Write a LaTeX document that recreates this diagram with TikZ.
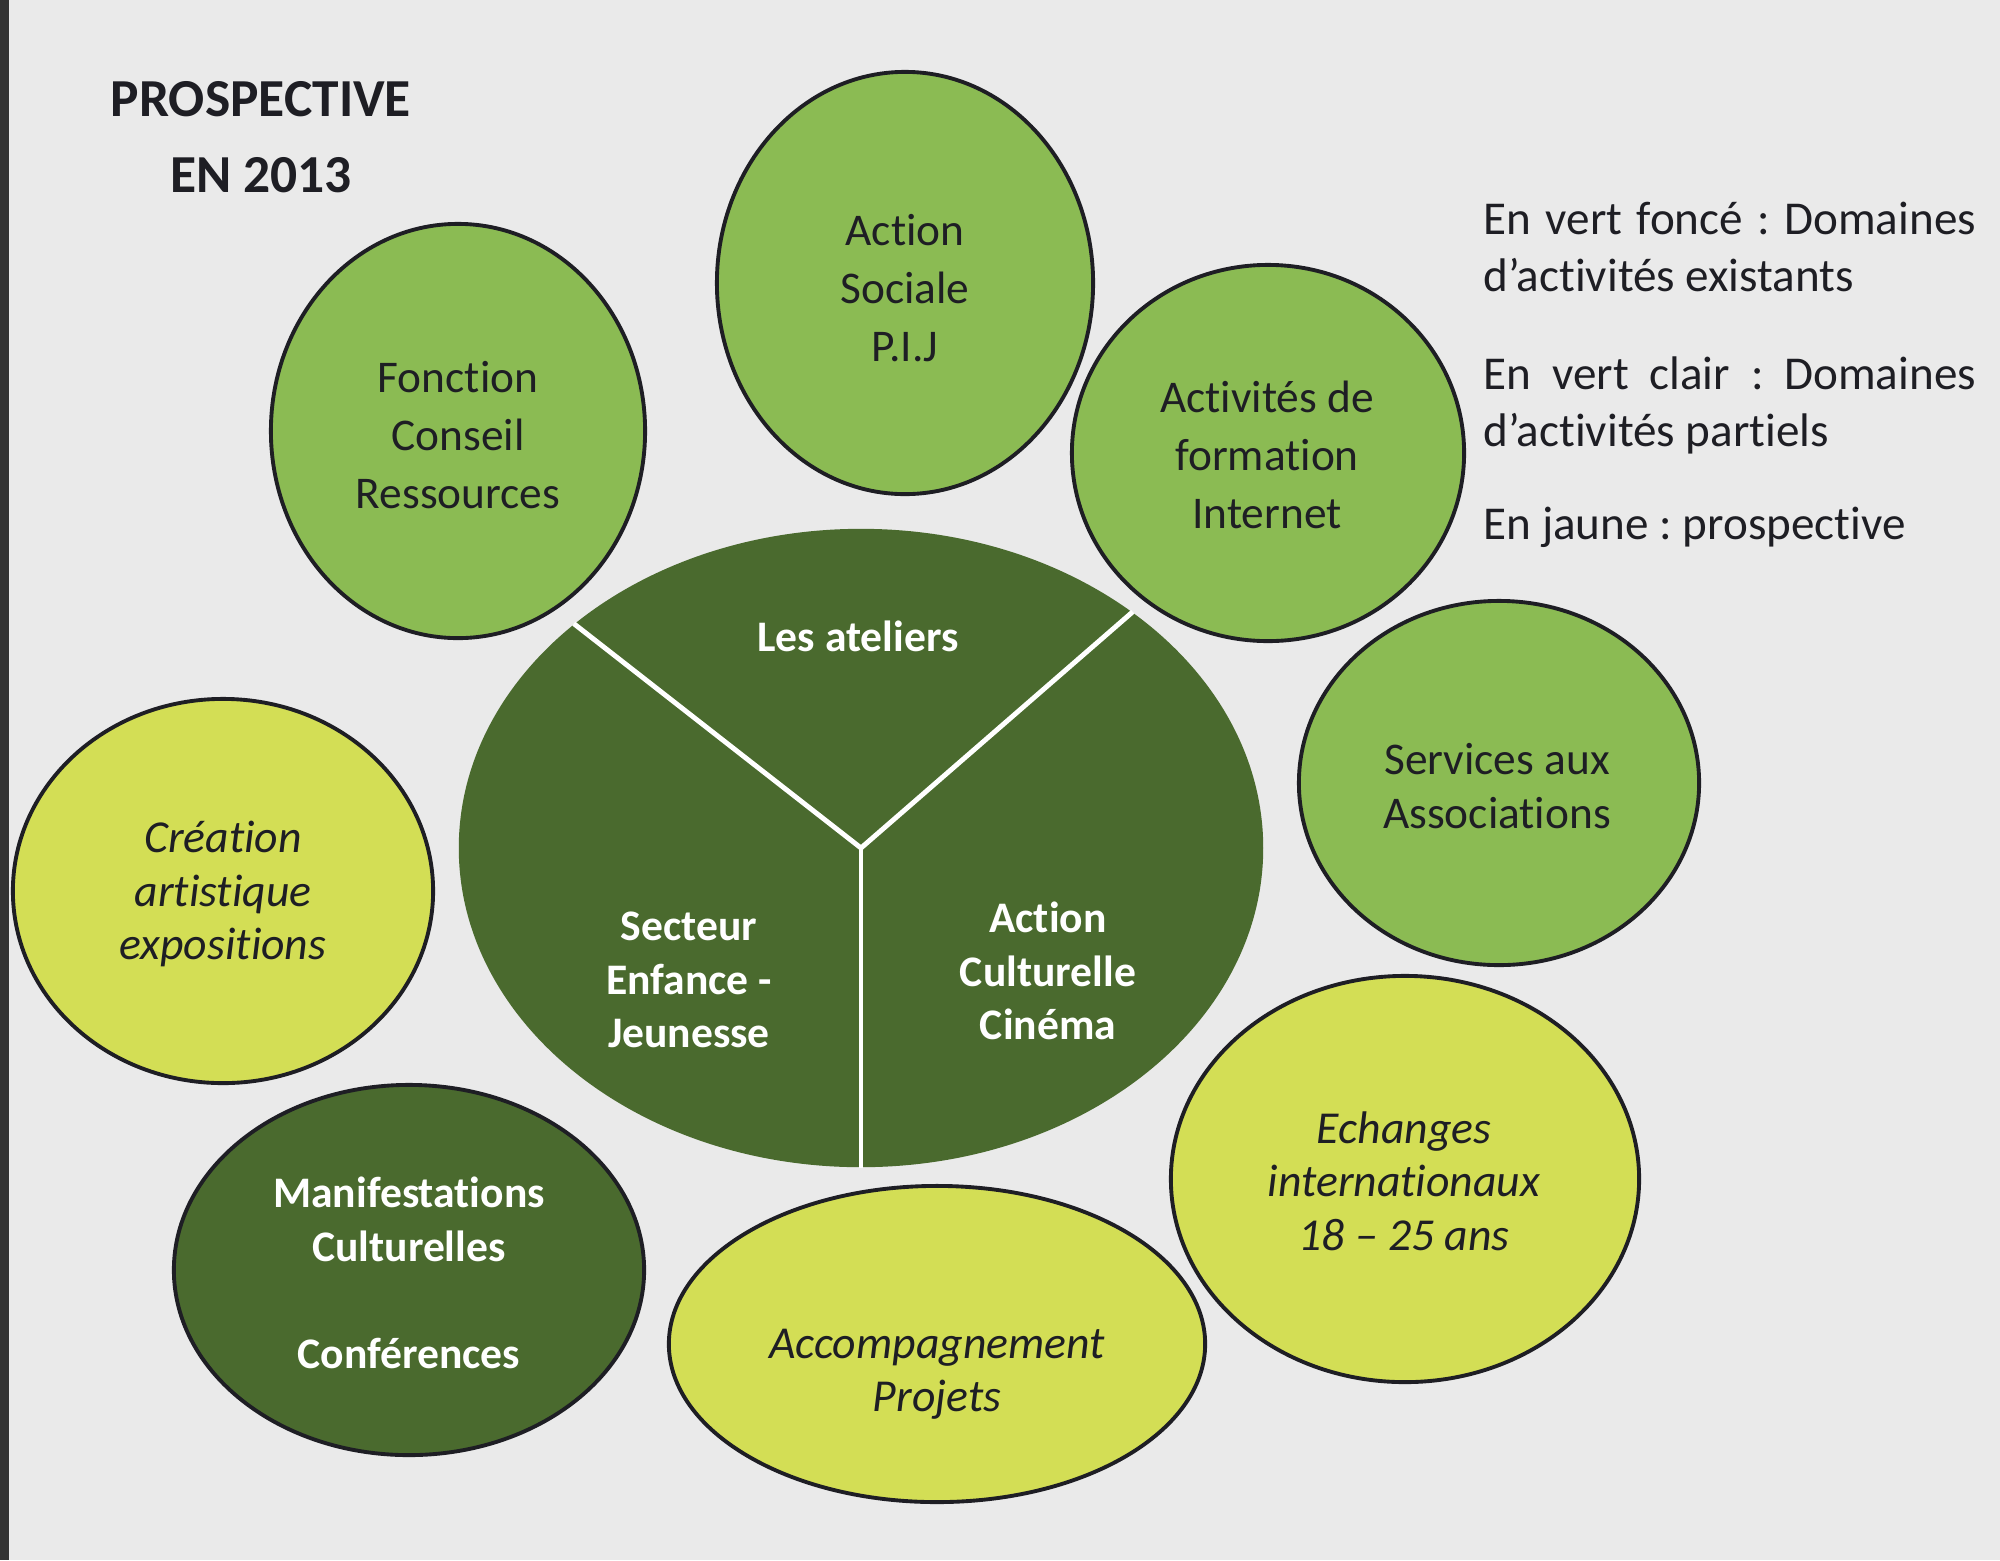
\documentclass[tikz,border=0pt]{standalone}
\usepackage{fontspec}
\setmainfont{Carlito}[Ligatures={TeX,NoCommon}]
\usetikzlibrary{shapes.geometric, positioning, calc}
\definecolor{vertF}{HTML}{4A6A2E}
\definecolor{vertC}{HTML}{8BBB53}
\definecolor{jauneA}{HTML}{D3DE55}
\definecolor{fondG}{HTML}{EAEAEA}
\definecolor{encreA}{HTML}{1E1E24}
\frenchspacing

\begin{document}
\begin{tikzpicture}[
  x=0.01cm, y=-0.01cm,
  domaine/.style={
    ellipse, fill=#1, draw=encreA,
    line width=1.1pt, inner sep=0pt
  },
  lbl/.style={
    font=\fontsize{12.9}{16.4}\selectfont,
    align=center, text=encreA, inner sep=0pt
  },
  lblw/.style={
    font=\bfseries\fontsize{12.4}{15.2}\selectfont,
    align=center, text=white, inner sep=0pt
  },
  lbli/.style={
    font=\itshape\fontsize{13}{15.2}\selectfont,
    align=center, text=encreA, inner sep=0pt
  },
  legende/.style={
    font=\fontsize{13.4}{16.2}\selectfont,
    align=justify, text width=4.92cm,
    anchor=west, inner sep=0pt, text=encreA
  },
  titre/.style={
    font=\bfseries\fontsize{15.2}{21.8}\selectfont,
    align=center, text=encreA, inner sep=0pt
  },
  divider/.style={draw=white, line width=1.4pt},
]

%% ═══ FOND ═══
\useasboundingbox (0,0) rectangle (2000,1560);
\fill[fondG] (0,0) rectangle (2000,1560);
\fill[black!80] (0,0) rectangle (9,1560);

%% ═══ TITRE ═══
\node[titre] (titre) at (261,137) {PROSPECTIVE\\EN 2013};

%% ═══ LÉGENDE ═══
\node[legende] (leg-fonce) at (1483,247)
  {En vert foncé : Domaines\linebreak d’activités existants};
\node[legende] (leg-clair) at (1483,405)
  {En vert clair : Domaines\linebreak d’activités partiels};
\node[legende] (leg-jaune) at (1483,527)
  {En jaune : prospective};

%% ═══ DOMAINES PÉRIPHÉRIQUES ═══
\node[domaine=vertC, minimum width=3.74cm, minimum height=4.14cm] (fonction) at (458,431) {};
\node[lbl] (t-fonction) at (458,435) {Fonction\\Conseil\\Ressources};

\node[domaine=vertC, minimum width=3.76cm, minimum height=4.22cm] (sociale) at (905,283) {};
\node[lbl] (t-sociale) at (905,288) {Action\\Sociale\\P.I.J};

\node[domaine=vertC, minimum width=3.92cm, minimum height=3.76cm] (formation) at (1268,453) {};
\node[lbl] (t-formation) at (1267,455) {Activités de\\formation\\Internet};

\node[domaine=vertC, minimum width=4.00cm, minimum height=3.64cm] (services) at (1499,783) {};
\node[lbl, font=\fontsize{12.9}{15.2}\selectfont] (t-services) at (1497,786) {Services aux\\Associations};

\node[domaine=jauneA, minimum width=4.68cm, minimum height=4.06cm] (echanges) at (1405,1179) {};
\node[lbli] (t-echanges) at (1404,1181) {Echanges\\internationaux\\18 – 25 ans};

\node[domaine=jauneA, minimum width=5.36cm, minimum height=3.16cm] (accomp) at (937,1344) {};
\node[lbli] (t-accomp) at (937,1374) {Accompagnement\\Projets};

\node[domaine=vertF, minimum width=4.70cm, minimum height=3.70cm] (manif) at (409,1270) {};
\node[lblw] (t-manif) at (409,1273) {Manifestations\\Culturelles\\[15.2pt]Conférences};

\node[domaine=jauneA, minimum width=4.20cm, minimum height=3.84cm] (creation) at (223,891) {};
\node[lbli] (t-creation) at (223,894) {Création\\artistique\\expositions};

%% ═══ NOYAU CENTRAL ═══
\node[ellipse, fill=vertF, inner sep=0pt, minimum width=8.04cm, minimum height=6.38cm] (core) at (861,848) {};
\draw[divider] (core.142) -- (core.center) -- (core.41.7);
\draw[divider] (core.center) -- (core.south);

\node[lblw] (t-ateliers) at (858,636) {Les ateliers};
\node[lblw] (t-enfance) at (689,980) {Secteur\\Enfance -\\Jeunesse};
\node[lblw] (t-culture) at (1048,971) {Action\\Culturelle\\Cinéma};

\end{tikzpicture}
\end{document}
